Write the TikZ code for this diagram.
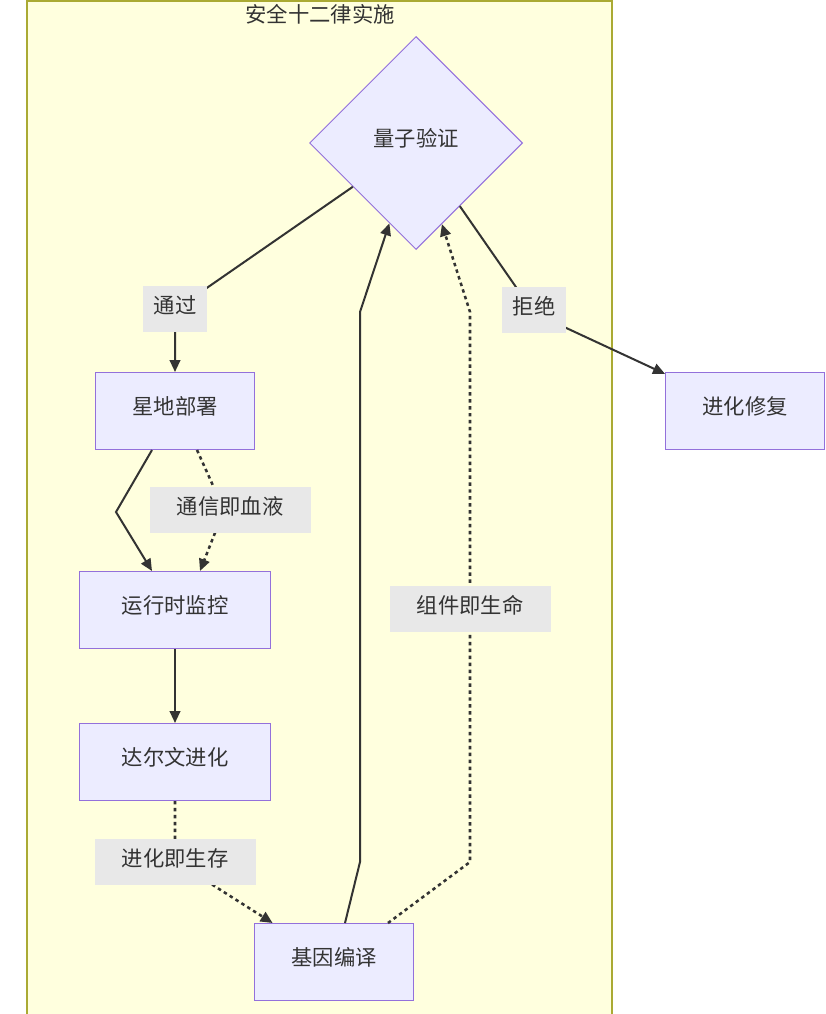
\documentclass[tikz,border=0pt]{standalone}
\usepackage{fontspec}
\setmainfont{Noto Sans CJK SC}
\usetikzlibrary{positioning,arrows.meta,shapes.geometric}
\definecolor{clusterfill}{HTML}{FFFFDE}
\definecolor{clusterline}{HTML}{AAAA33}
\definecolor{nodefill}{HTML}{ECECFF}
\definecolor{nodeline}{HTML}{9370DB}
\definecolor{lblgray}{HTML}{E8E8E8}
\definecolor{inkgray}{HTML}{333333}

\begin{document}
\begin{tikzpicture}[x=0.75pt, y=-0.75pt,
      proc/.style={rectangle, draw=nodeline, fill=nodefill, line width=0.75pt,
        minimum width=119.25pt, minimum height=57.75pt, inner sep=0pt,
        text depth=8pt, text=inkgray, font=\fontsize{16}{19}\selectfont},
      wideproc/.style={proc, minimum width=143.25pt},
      decision/.style={diamond, draw=nodeline, fill=nodefill, line width=0.75pt,
        minimum width=159.75pt, minimum height=159.75pt, inner sep=0pt,
        text depth=8pt, text=inkgray, font=\fontsize{16}{19}\selectfont},
      lbl/.style={rectangle, fill=lblgray, inner sep=0pt, minimum width=120.75pt,
        minimum height=35pt, text depth=7pt, text=inkgray, font=\fontsize{16}{19}\selectfont},
      arr/.style={-{Triangle[length=9pt,width=8pt]}, line width=1.5pt, color=inkgray},
      darr/.style={arr, line width=1.9pt, dash pattern=on 2.6pt off 2.6pt}
    ]
      \useasboundingbox (0,0) rectangle (825,1014);
      % cluster
      \fill[clusterfill] (27,1) rectangle (612,1014);
      \draw[clusterline, line width=1.1pt] (27,1014) -- (27,1) -- (612,1) -- (612,1014);
      \node[text=inkgray, font=\fontsize{16}{19}\selectfont] (ttl) at (320,14) {安全十二律实施};

      \node[decision] (q) at (416,143) {量子验证};
      \node[proc] (deploy) at (175,411) {星地部署};
      \node[wideproc] (monitor) at (175,610) {运行时监控};
      \node[wideproc] (darwin) at (175,762) {达尔文进化};
      \node[proc] (gene) at (334,962) {基因编译};
      \node[proc] (repair) at (745,411) {进化修复};

      \draw[arr] (q) -- (175,310) -- (deploy);
      \draw[arr] (q) -- (534,313) -- (repair);
      \draw[arr] ([xshift=-17.25pt]deploy.south) -- (116,512) -- ([xshift=-17.25pt]monitor.north);
      \draw[darr] ([xshift=16.5pt]deploy.south) -- (224,510) -- ([xshift=18.75pt]monitor.north);
      \draw[arr] (monitor) -- (darwin);
      \draw[darr] (darwin) -- (175,861) -- (gene);
      \draw[arr] ([xshift=8.25pt]gene.north) -- (360,862) -- (360,312) -- (q);
      \draw[darr] ([xshift=40.5pt]gene.north) -- (470,862) -- (470,312) -- (q);

      \node[lbl, minimum width=48pt] (l1) at (175,309) {通过};
      \node[lbl, minimum width=48pt] (l2) at (534,310) {拒绝};
      \node[lbl] (l3) at (230,510) {通信即血液};
      \node[lbl] (l4) at (470,609) {组件即生命};
      \node[lbl] (l5) at (175,862) {进化即生存};
    \end{tikzpicture}
\end{document}
